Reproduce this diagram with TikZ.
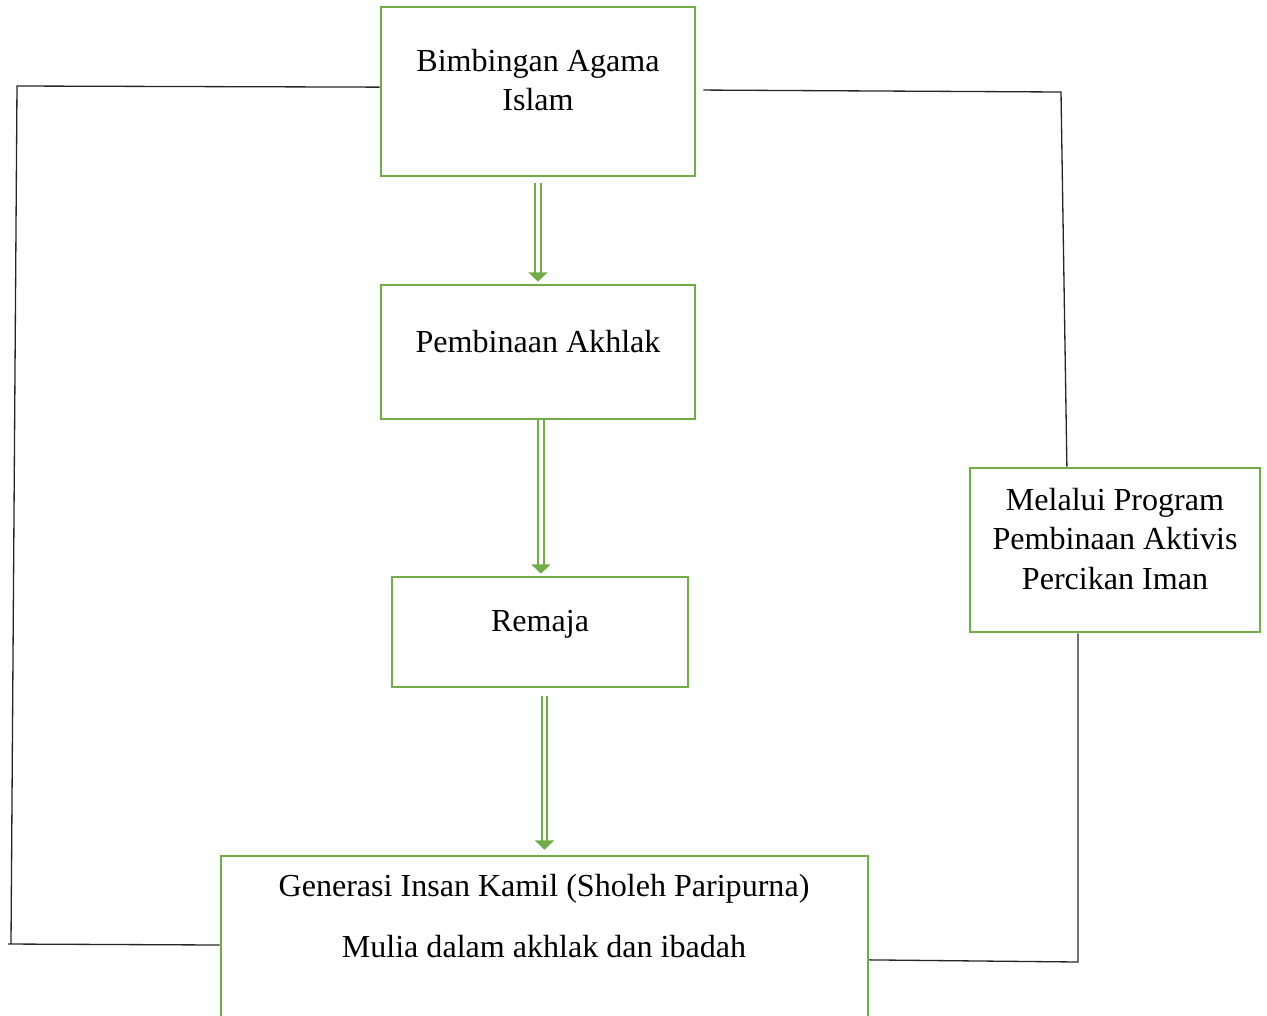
\documentclass[tikz,border=0pt]{standalone}
\usepackage{fontspec}
\setmainfont{Liberation Serif}
\usetikzlibrary{arrows.meta}
\definecolor{boxgreen}{RGB}{112,173,71}
\def\pxl{0.343pt}
\begin{document}
\begin{tikzpicture}[x=\pxl, y=-\pxl]
	\tikzstyle{box} = [rectangle, draw=boxgreen, line width=0.9pt, inner sep=0pt]
	\tikzstyle{txt} = [align=center, inner sep=0pt, font=\fontsize{11}{13.7}\selectfont]
	\tikzstyle{dblarrow} = [draw=boxgreen, line width=0.75pt, double=white, double distance=1.2pt, -{Triangle[width=6.5pt, length=3.2pt]}]
	\tikzstyle{link} = [draw=black!85, line width=0.45pt]
	\useasboundingbox (0,0) rectangle (1267,1015);
	% boxes
	\node[box, minimum width=314*\pxl, minimum height=169*\pxl](bimbingan)at (538,91.5){};
	\node[box, minimum width=314*\pxl, minimum height=134*\pxl](pembinaan)at (538,352){};
	\node[box, minimum width=296*\pxl, minimum height=110*\pxl](remaja)at (540,632){};
	\node[box, minimum width=647*\pxl, minimum height=178*\pxl](generasi)at (544.5,945){};
	\node[box, minimum width=290*\pxl, minimum height=164*\pxl](melalui)at (1115,550){};
	% texts
	\node[txt](bimbingan-txt)at (538,80){Bimbingan Agama\\Islam};
	\node[txt](pembinaan-txt)at (538,342){Pembinaan Akhlak};
	\node[txt](remaja-txt)at (540,624){Remaja};
	\node[txt](generasi-txt)at (544,916){Generasi Insan Kamil (Sholeh Paripurna)\\[6.9pt]Mulia dalam akhlak dan ibadah};
	\node[txt](melalui-txt)at (1115,539){Melalui Program\\Pembinaan Aktivis\\Percikan Iman};
	% down arrows
	\draw[dblarrow, shorten <=2pt, shorten >=0.7pt] (bimbingan.south) -- (pembinaan.north);
	\draw[dblarrow, shorten >=0.7pt] ([xshift=1pt]pembinaan.south) -- ([xshift=1pt]pembinaan.south |- remaja.north);
	\draw[dblarrow, shorten <=2.7pt, shorten >=1.7pt] (remaja.south -| generasi.north) -- (generasi.north);
	% outer lines
	\coordinate (lt) at (17,86);
	\coordinate (lb) at (11,944);
	\coordinate (lbx) at (8,944);
	\coordinate (rt) at (1061,92);
	\coordinate (rb) at (1078,962);
	\path[link] ([yshift=1.5pt]bimbingan.west) -- (lt) -- (lb)
	(lbx) -- (generasi.west);
	\path[link] ([xshift=2.4pt,yshift=0.5pt]bimbingan.east) -- (rt) -- ([xshift=-16.5pt]melalui.north)
	([xshift=-12.7pt]melalui.south) -- (rb) -- ([yshift=-5.1pt]generasi.east);
\end{tikzpicture}
\end{document}
